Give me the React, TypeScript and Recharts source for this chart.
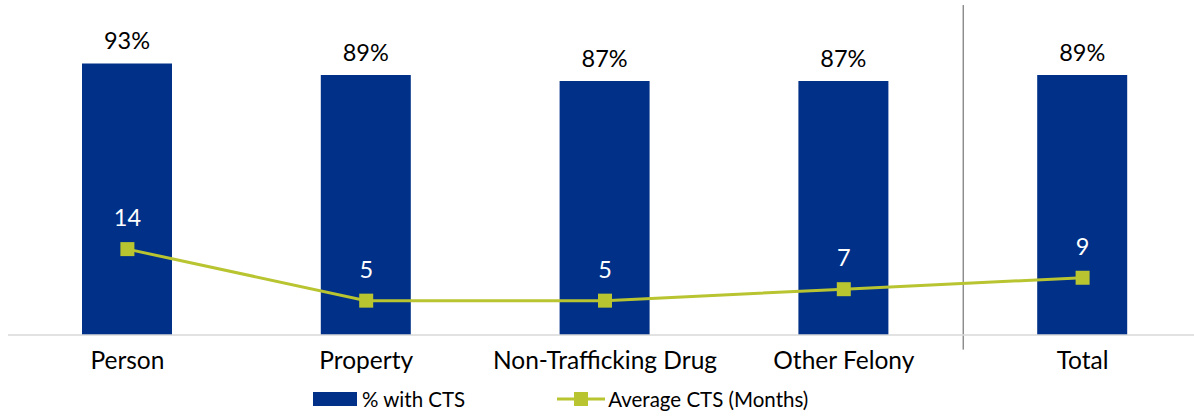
import React from 'react'
import {
  ComposedChart,
  Bar,
  Line,
  XAxis,
  YAxis,
  Legend,
  LabelList,
  ReferenceLine,
} from 'recharts'

const CATEGORIES = ['Person', 'Property', 'Non-Trafficking Drug', 'Other Felony', 'Total']
const PCT_WITH_CTS = [93, 89, 87, 87, 89]
const AVG_CTS_MONTHS = [14, 5, 5, 7, 9]

const BAR_COLOR = '#003087'
const LINE_COLOR = '#b8c430'
const FONT = 'Lato, "Noto Sans", sans-serif'

type Row = { name: string; pct: number; avg: number }

const data: Row[] = CATEGORIES.map((name, i) => ({
  name,
  pct: PCT_WITH_CTS[i],
  avg: AVG_CTS_MONTHS[i],
}))

const SquareDot = (props: any) => {
  const { cx, cy } = props
  if (cx == null || cy == null) return null
  return <rect x={cx - 7} y={cy - 7} width={14} height={14} fill={LINE_COLOR} />
}

const LegendContent = () => (
  <div
    style={{
      height: 41,
      display: 'flex',
      alignItems: 'center',
      paddingLeft: 305,
      paddingTop: 6,
      boxSizing: 'border-box',
      fontFamily: FONT,
      fontSize: 20.5,
      color: '#000',
    }}
  >
    <span style={{ display: 'inline-block', width: 44, height: 14, background: BAR_COLOR, marginRight: 5 }} />
    <span>% with CTS</span>
    <svg width={48} height={14} style={{ marginLeft: 92, marginRight: 3 }}>
      <line x1={0} y1={7} x2={48} y2={7} stroke={LINE_COLOR} strokeWidth={3} />
      <rect x={17} y={0} width={14} height={14} fill={LINE_COLOR} />
    </svg>
    <span>Average CTS (Months)</span>
  </div>
)

export default function App() {
  return (
    <div style={{ width: 1194, height: 416, overflow: 'hidden', background: '#fff' }}>
      <style>{'body{margin:0}'}</style>
      <ComposedChart
        width={1202}
        height={416}
        data={data}
        margin={{ top: 43, right: 0, bottom: 0, left: 8 }}
        style={{ fontFamily: FONT }}
      >
        <XAxis
          dataKey="name"
          height={40}
          tickLine={false}
          axisLine={{ stroke: '#d9d9d9', strokeWidth: 1.5 }}
          tick={{ fill: '#000', fontSize: 24.5, fontFamily: FONT }}
          tickMargin={11}
          interval={0}
        />
        <YAxis yAxisId="left" hide domain={[0, 100]} />
        <YAxis yAxisId="right" hide orientation="right" domain={[-1, 50]} />
        <ReferenceLine
          yAxisId="left"
          segment={[
            { x: 'Total', y: 113 },
            { x: 'Total', y: -5 },
          ]}
          position="start"
          ifOverflow="visible"
          stroke="#595959"
          strokeWidth={1}
        />
        <Legend verticalAlign="bottom" height={41} content={<LegendContent />} />
        <Bar yAxisId="left" dataKey="pct" name="% with CTS" fill={BAR_COLOR} barSize={90} isAnimationActive={false}>
          <LabelList
            dataKey="pct"
            position="top"
            offset={14}
            formatter={(v: any) => `${v}%`}
            style={{ fill: '#000', fontSize: 23.5, fontFamily: FONT }}
          />
        </Bar>
        <Line
          yAxisId="right"
          dataKey="avg"
          name="Average CTS (Months)"
          stroke={LINE_COLOR}
          strokeWidth={3}
          dot={<SquareDot />}
          activeDot={false}
          isAnimationActive={false}
        >
          <LabelList
            dataKey="avg"
            position="top"
            offset={23}
            style={{ fill: '#fff', fontSize: 23.5, fontFamily: FONT }}
          />
        </Line>
      </ComposedChart>
    </div>
  )
}
